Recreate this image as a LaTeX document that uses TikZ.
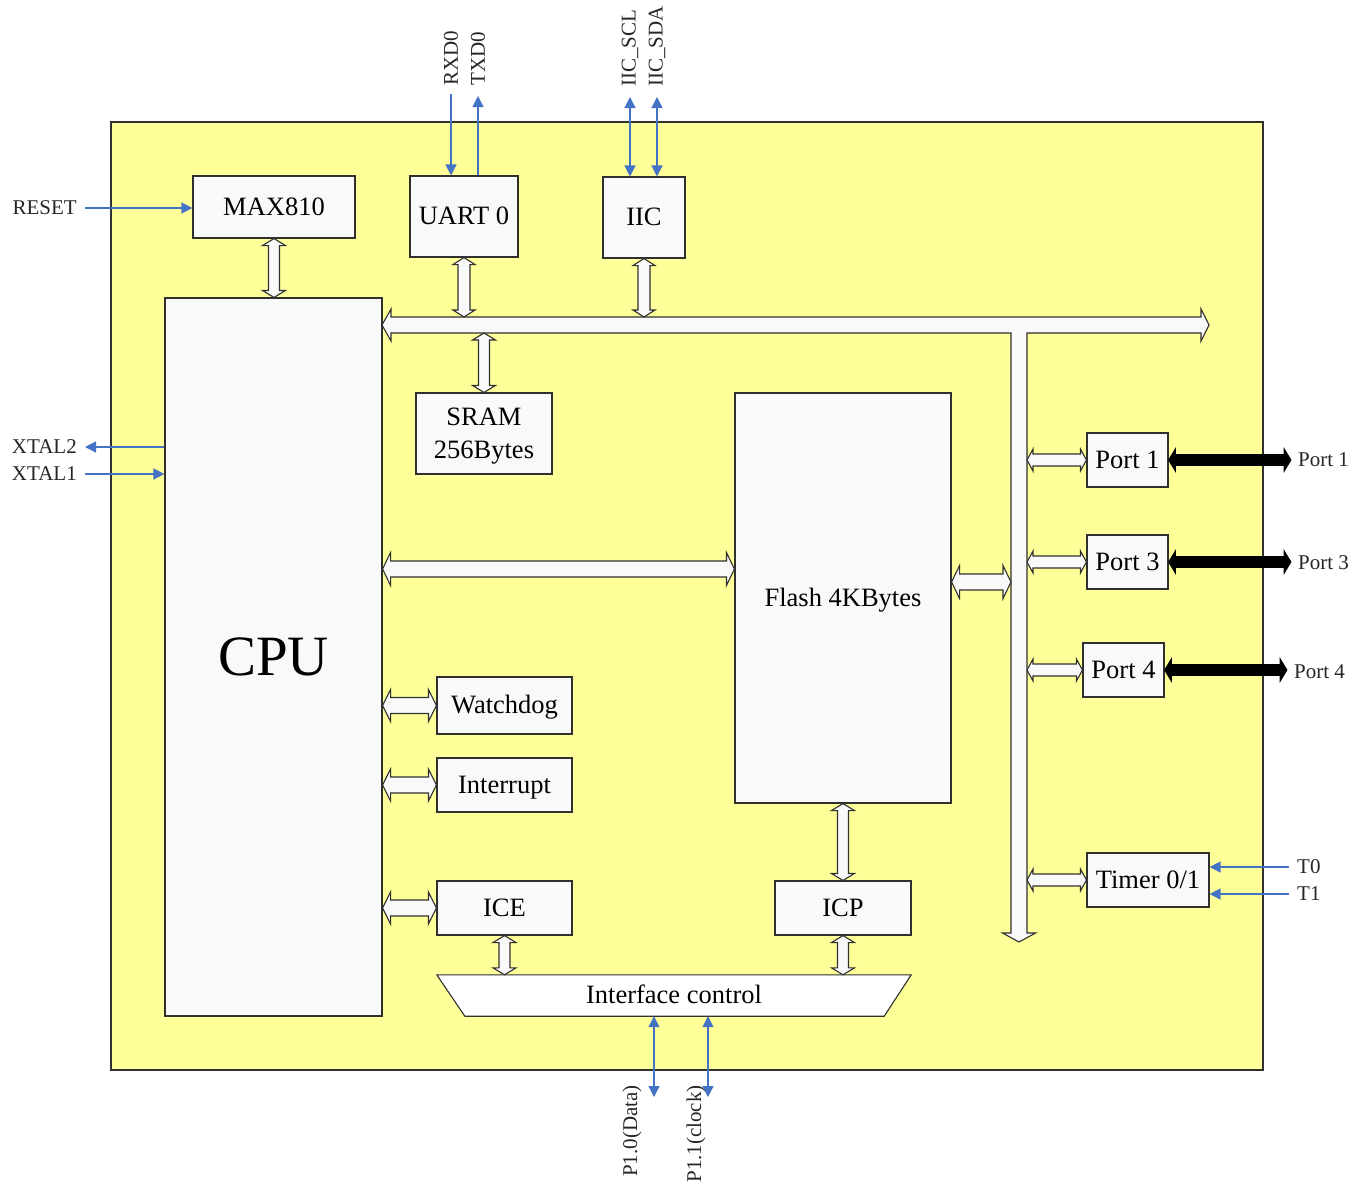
\documentclass[tikz,border=0pt]{standalone}
\usepackage{fontspec}
\setmainfont{Liberation Serif}
\usetikzlibrary{arrows.meta,calc}
\definecolor{chipyellow}{HTML}{FFFF99}
\definecolor{boxfill}{HTML}{F9F9F9}
\definecolor{sigblue}{HTML}{4472C4}
\definecolor{edge}{HTML}{303030}
\newcommand\mainfs{\fontsize{26.5}{33}\selectfont}
\newcommand\smallfs{\fontsize{21}{25}\selectfont}
\newcommand\cpufs{\fontsize{57}{62}\selectfont}
% horizontal double block arrow: #2 left point, #3 right point, #4 shaft half width, #5 head half width, #6 head length
\newcommand\hblock[6][blk]{%
\path[#1] let \p1=(#2),\p2=(#3) in (\x1,\y1) -- (\x1+#6pt,\y1+#5pt) -- (\x1+#6pt,\y1+#4pt) -- (\x2-#6pt,\y1+#4pt) -- (\x2-#6pt,\y1+#5pt) -- (\x2,\y1) -- (\x2-#6pt,\y1-#5pt) -- (\x2-#6pt,\y1-#4pt) -- (\x1+#6pt,\y1-#4pt) -- (\x1+#6pt,\y1-#5pt) -- cycle;}
% vertical double block arrow: #2 top point, #3 bottom point
\newcommand\vblock[6][blk]{%
\path[#1] let \p1=(#2),\p2=(#3) in (\x1,\y1) -- (\x1+#5pt,\y1-#6pt) -- (\x1+#4pt,\y1-#6pt) -- (\x1+#4pt,\y2+#6pt) -- (\x1+#5pt,\y2+#6pt) -- (\x1,\y2) -- (\x1-#5pt,\y2+#6pt) -- (\x1-#4pt,\y2+#6pt) -- (\x1-#4pt,\y1-#6pt) -- (\x1-#5pt,\y1-#6pt) -- cycle;}
\tikzset{
 mbox/.style={draw=edge, fill=boxfill, line width=1.1pt, inner sep=0pt, font=\mainfs},
 box/.style={mbox, text height=19pt, text depth=3pt},
 blk/.style={draw=edge, fill=boxfill, line width=1.1pt, line join=miter},
 blkblack/.style={draw=black, fill=black, line width=0.8pt},
 sig/.style={draw=sigblue, line width=1.3pt, -{Triangle[length=11pt,width=11pt]}},
 sigd/.style={draw=sigblue, line width=1.3pt, {Triangle[length=11pt,width=11pt]}-{Triangle[length=11pt,width=11pt]}},
 lab/.style={font=\smallfs, inner sep=0pt, text=black!85},
}
\begin{document}
\begin{tikzpicture}[x=1pt,y=-1pt]
\useasboundingbox (0,0) rectangle (1364,1187);
% chip body
\node[draw=edge, fill=chipyellow, line width=1.1pt, minimum width=1152pt, minimum height=948pt, inner sep=0pt] (chip) at (687,596) {};
% bus coordinates
\coordinate (busT) at (0,317);
\coordinate (busB) at (0,333);
\coordinate (vbusL) at (1011,0);
\coordinate (vbusR) at (1027,0);
\coordinate (cf) at (0,569);
\coordinate (fb) at (0,582);
% internal bus (T shape)
\path[blk] (382,325) -- (391,309) -- (391,317) -- (1201,317) -- (1201,309) -- (1209,325) -- (1201,341) -- (1201,333) -- (1027,333) -- (1027,933) -- (1035.5,933) -- (1019,942) -- (1002.5,933) -- (1011,933) -- (1011,333) -- (391,333) -- (391,341) -- cycle;
% blocks
\node[box, minimum width=162pt, minimum height=62pt] (max) at (274,207) {MAX810};
\node[box, minimum width=108pt, minimum height=81pt] (uart) at (464,216.5) {UART 0};
\node[box, minimum width=82pt, minimum height=81pt] (iic) at (644,217.5) {IIC};
\node[box, minimum width=217pt, minimum height=718pt, font=\cpufs, text height=40pt, text depth=4pt] (cpu) at (273.5,657) {CPU};
\node[mbox, minimum width=136pt, minimum height=81pt, align=center] (sram) at (484,433.5) {\rule{0pt}{23pt}SRAM\\256Bytes};
\node[box, minimum width=216pt, minimum height=410pt] (flash) at (843,598) {Flash 4KBytes};
\node[box, minimum width=135pt, minimum height=57pt] (wd) at (504.5,705.5) {Watchdog};
\node[box, minimum width=135pt, minimum height=54pt] (intr) at (504.5,785) {Interrupt};
\node[box, minimum width=135pt, minimum height=54pt] (ice) at (504.5,908) {ICE};
\node[box, minimum width=136pt, minimum height=54pt] (icp) at (843,908) {ICP};
\node[box, minimum width=81pt, minimum height=54pt] (p1) at (1127.5,460) {Port 1};
\node[box, minimum width=81pt, minimum height=54pt] (p3) at (1127.5,562) {Port 3};
\node[box, minimum width=81pt, minimum height=54pt] (p4) at (1123.5,670) {Port 4};
\node[box, minimum width=122pt, minimum height=54pt] (timer) at (1148,880) {Timer 0/1};
% interface control trapezoid
\node[inner sep=0pt, minimum width=474pt, minimum height=41pt] (ifc) at (674,995.5) {};
\path[draw=edge, fill=white, line width=1.1pt] (ifc.north west) -- (ifc.north east) -- ($(ifc.south east)+(-27,0)$) -- ($(ifc.south west)+(28,0)$) -- cycle;
\node[font=\mainfs, inner sep=0pt, text height=19pt, text depth=3pt] (ifctext) at (ifc.center) {Interface control};
% block arrows
\vblock{max.south}{cpu.north}{5.5}{11.5}{7}
\vblock{uart.south}{busT}{6}{11}{7}
\vblock{iic.south}{busT}{6}{11}{7}
\vblock{sram.north |- busB}{sram.north}{5.5}{11.5}{7}
\hblock{cpu.east |- cf}{flash.west |- cf}{8}{16.5}{8}
\hblock{flash.east |- fb}{vbusL |- fb}{8}{16.5}{8}
\hblock{cpu.east |- wd}{wd.west}{8}{16}{8}
\hblock{cpu.east |- intr}{intr.west}{8}{16}{8}
\hblock{cpu.east |- ice}{ice.west}{8}{16}{8}
\vblock{ice.south}{ifc.north}{5.5}{11.5}{7}
\vblock{flash.south}{icp.north}{5.5}{11.5}{7}
\vblock{icp.south}{ifc.north}{5.5}{11.5}{7}
\hblock{vbusR |- p1}{p1.west}{6}{11}{6}
\hblock{vbusR |- p3}{p3.west}{6}{11}{6}
\hblock{vbusR |- p4}{p4.west}{6}{11}{6}
\hblock{vbusR |- timer}{timer.west}{6}{11}{6}
% external labels
\node[lab, anchor=east] (reset) at (77,208) {RESET};
\node[lab, anchor=east] (xtal2) at (77,447) {XTAL2};
\node[lab, anchor=east] (xtal1) at (77,474) {XTAL1};
\node[lab, rotate=90, anchor=west] (rxd) at (451,86) {RXD0};
\node[lab, rotate=90, anchor=west] (txd) at (478,86) {TXD0};
\node[lab, rotate=90, anchor=west] (scl) at (630,87) {IIC\_SCL};
\node[lab, rotate=90, anchor=west] (sda) at (657,87) {IIC\_SDA};
\node[lab, anchor=west] (p1lab) at (1298,460) {Port 1};
\node[lab, anchor=west] (p3lab) at (1298,563) {Port 3};
\node[lab, anchor=west] (p4lab) at (1294,672) {Port 4};
\node[lab, anchor=west] (t0) at (1297,867) {T0};
\node[lab, anchor=west] (t1) at (1297,894) {T1};
\node[lab, rotate=90, anchor=east] (p10) at (632,1085) {P1.0(Data)};
\node[lab, rotate=90, anchor=east] (p11) at (696,1085) {P1.1(clock)};
% black port arrows
\hblock[blkblack]{p1.east}{[xshift=-7pt]p1lab.west}{5.5}{11.5}{7}
\hblock[blkblack]{p3.east}{[xshift=-7pt]p3lab.west |- p3.east}{5.5}{11.5}{7}
\hblock[blkblack]{p4.east}{[xshift=-7pt]p4lab.west |- p4.east}{5.5}{11.5}{7}
% blue signal arrows
\coordinate (p10end) at (654,1097);
\coordinate (p11end) at (708,1097);
\draw[sig] ([xshift=8pt]reset.east) -- (max.west |- reset.east);
\draw[sig] (cpu.west |- xtal2.east) -- ([xshift=8pt]xtal2.east);
\draw[sig] ([xshift=8pt]xtal1.east) -- (cpu.west |- xtal1.east);
\draw[sig] ([yshift=-8pt]rxd.west) -- (uart.north -| rxd.west);
\draw[sig] (uart.north -| txd.west) -- ([yshift=-10pt]txd.west);
\draw[sigd] ([yshift=-10pt]scl.west) -- (iic.north -| scl.west);
\draw[sigd] ([yshift=-10pt]sda.west) -- (iic.north -| sda.west);
\draw[sig] ([xshift=-8pt]t0.west) -- (timer.east |- t0.west);
\draw[sig] ([xshift=-8pt]t1.west) -- (timer.east |- t1.west);
\draw[sigd] (p10end |- ifc.south) -- (p10end);
\draw[sigd] (p11end |- ifc.south) -- (p11end);
\end{tikzpicture}
\end{document}
